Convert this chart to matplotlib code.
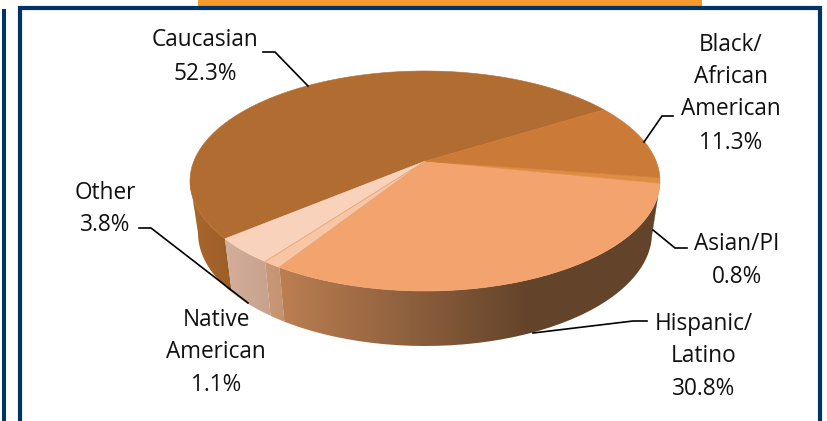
import matplotlib
matplotlib.use("Agg")
import matplotlib.pyplot as plt
from matplotlib.colors import LinearSegmentedColormap
from matplotlib.patches import PathPatch, Polygon, Rectangle
from matplotlib.path import Path
import numpy as np

plt.rcParams["font.family"] = ["Open Sans", "DejaVu Sans"]

GROUPS = ["Caucasian", "Other", "Native American", "Hispanic/Latino", "Asian/PI", "Black/African American"]
SHARES = [52.3, 3.8, 1.1, 30.8, 0.8, 11.3]

TOP_COLORS = ["#b16c31", "#f8d2bb", "#f9c6a5", "#f3a46e", "#e08c45", "#cc7a38"]
SIDE_STOPS = [
    ["#a9672c", "#9c5e27"],
    ["#d2ae9c", "#c8a28c"],
    ["#c89878", "#c49270"],
    ["#bc7f52", "#63432a"],
    ["#63432a", "#63432a"],
    ["#63432a", "#63432a"],
]

NAVY = "#003366"
ORANGE = "#f79a2e"
SEAM = "#e6a47a"
START_DEG = 32.0
TILT = 0.18
WALL_FROM, WALL_TO = 190.4, 349.6

TOP = dict(cx=425.0, cy=181.0, rx=235.0, ry=110.0)
BOTTOM = dict(cx=425.0, cy=233.0, rx=227.0, ry=113.0)

# text, x centre, y of each line, in pixels
LABELS = [
    (["Caucasian", "52.3%"], 205, [40, 74]),
    (["Black/", "African", "American", "11.3%"], 731, [45, 77, 109, 143]),
    (["Asian/PI", "0.8%"], 737, [244, 277]),
    (["Hispanic/", "Latino", "30.8%"], 704, [324, 356, 389]),
    (["Native", "American", "1.1%"], 216, [320, 352, 385]),
    (["Other", "3.8%"], 105, [193, 225]),
]
LEADERS = [
    [(263, 52), (275, 52), (308, 86)],
    [(673, 116), (662, 116), (644, 142)],
    [(687, 248), (675, 248), (653, 230)],
    [(647, 321), (633, 321), (533, 333)],
    [(139, 228), (151, 228), (248, 303)],
]


def rim(deg, ell):
    """Points on a tilted disc edge; the disc centre lands above the ellipse centre."""
    t = np.radians(deg)
    u, v = np.cos(t), np.sin(t)
    den = 1 + TILT * v
    x = u * np.sqrt(1 - TILT ** 2) / den
    w = (v + TILT) / den
    return ell["cx"] + ell["rx"] * x, ell["cy"] - ell["ry"] * w


def apex(ell):
    return ell["cx"], ell["cy"] - ell["ry"] * TILT


fig = plt.figure(figsize=(8.27, 4.21), dpi=100)
ax = fig.add_axes([0, 0, 1, 1])
ax.axis("off")

# page furniture around the chart
ax.add_patch(Rectangle((198, 0), 504, 6, facecolor=ORANGE, edgecolor="none"))
ax.add_patch(Rectangle((2, 9), 4, 412, facecolor=NAVY, edgecolor="none"))
ax.add_patch(Rectangle((20, 8), 800, 440, facecolor="white", edgecolor=NAVY, linewidth=3))

edges = START_DEG + np.cumsum([0] + SHARES) * 360 / sum(SHARES)

# side wall first, only the part facing the viewer
for i in range(len(SHARES)):
    a0, a1 = max(edges[i], WALL_FROM), min(edges[i + 1], WALL_TO)
    if i == 3:
        a1 = edges[i + 1]
    if a1 <= a0:
        continue
    ts = np.linspace(a0, a1, 80)
    xt, yt = rim(ts, TOP)
    xb, yb = rim(ts, BOTTOM)
    verts = np.r_[np.c_[xt, yt], np.c_[xb, yb][::-1]]
    clip = PathPatch(Path(np.r_[verts, verts[:1]]), facecolor="none", edgecolor="none")
    ax.add_patch(clip)
    cmap = LinearSegmentedColormap.from_list(f"wall{i}", SIDE_STOPS[i])
    x0, x1 = verts[:, 0].min(), verts[:, 0].max()
    if i == 3:
        # shading stops getting darker past the front of the wall
        x1 = 530.0
        rest = ax.imshow([[1.0]], cmap=cmap, vmin=0, vmax=1, aspect="auto",
                         extent=(530, 670, 360, 60), zorder=1)
        rest.set_clip_path(clip)
    img = ax.imshow(np.linspace(0, 1, 256)[None, :], cmap=cmap, aspect="auto",
                    extent=(x0, x1, 360, 60), zorder=1)
    img.set_clip_path(clip)
ax.set_xlim(0, 827)
ax.set_ylim(421, 0)

# top surface
for i in range(len(SHARES)):
    ts = np.linspace(edges[i], edges[i + 1], 160)
    xt, yt = rim(ts, TOP)
    verts = np.r_[[apex(TOP)], np.c_[xt, yt]]
    ax.add_patch(Polygon(verts, closed=True, facecolor=TOP_COLORS[i],
                         edgecolor=TOP_COLORS[i], linewidth=0.4, zorder=2))

# faint seams either side of the narrow pale slice
for deg in edges[2:4]:
    xs, ys = rim(np.array([deg]), TOP)
    cx, cy = apex(TOP)
    ax.plot([cx, xs[0]], [cy, ys[0]], color=SEAM, linewidth=0.6, zorder=2.5)

for pts in LEADERS:
    xs, ys = zip(*pts)
    ax.plot(xs, ys, color="black", linewidth=1.2, solid_joinstyle="miter", zorder=3)

for lines, xc, ys in LABELS:
    for line, y in zip(lines, ys):
        ax.text(xc, y, line, ha="center", va="center", fontsize=16.3, color="#111111", zorder=4)

fig.savefig("out.png", dpi=100)
plt.close(fig)
